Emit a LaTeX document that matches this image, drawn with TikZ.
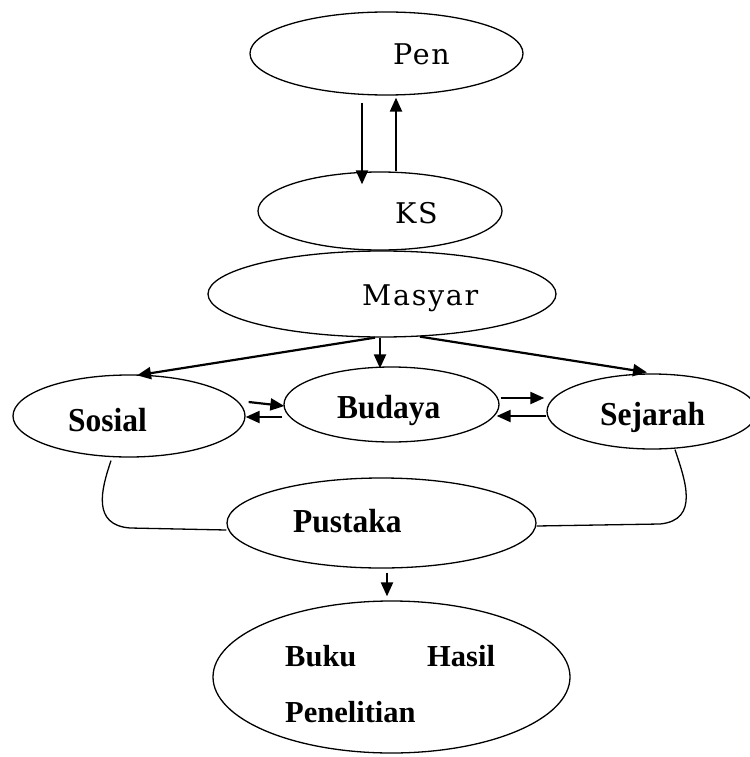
\documentclass[tikz,border=0pt]{standalone}
\usepackage{fontspec}
\setmainfont{Liberation Serif}
\newfontfamily\wideserif[LetterSpace=6]{DejaVu Serif}
\newfontfamily\narrowserif[FakeStretch=0.94]{Liberation Serif}
\usetikzlibrary{shapes.geometric,arrows.meta}
\begin{document}
\begin{tikzpicture}[x=1pt,y=-1pt,
  oval/.style={ellipse, draw, line width=1.3pt, inner sep=0pt},
  toptxt/.style={anchor=base west, inner sep=0pt, font=\wideserif\fontsize{28.5}{34}\selectfont},
  boldtxt/.style={anchor=base west, inner sep=0pt, font=\narrowserif\fontsize{33.5}{40}\selectfont\bfseries},
  booktxt/.style={anchor=base west, inner sep=0pt, font=\fontsize{30.5}{36}\selectfont\bfseries},
  arr/.style={line width=2.2pt, -{Triangle[length=14pt,width=12pt]}},
  link/.style={line width=1.3pt}]
\useasboundingbox (0,0) rectangle (749,757);
\node[oval, minimum width=273pt, minimum height=83pt] (pen) at (386.5,53.5){};
\node[toptxt] (pentxt) at (393,65){Pen};
\node[oval, minimum width=244pt, minimum height=78pt] (ks) at (380,211){};
\node[toptxt] (kstxt) at (395,223){KS};
\node[oval, minimum width=348pt, minimum height=86pt] (masyar) at (382,294){};
\node[toptxt] (masyartxt) at (362,305){Masyar};
\node[oval, minimum width=232pt, minimum height=82pt] (sosial) at (129,416){};
\node[boldtxt] (sosialtxt) at (68,431){Sosial};
\node[oval, minimum width=215pt, minimum height=75pt] (budaya) at (391.5,404.5){};
\node[boldtxt] (budayatxt) at (337,418){Budaya};
\node[oval, minimum width=210pt, minimum height=75pt] (sejarah) at (652,411.5){};
\node[boldtxt] (sejarahtxt) at (600,425){Sejarah};
\node[oval, minimum width=309pt, minimum height=90pt] (pustaka) at (381.5,523){};
\node[boldtxt] (pustakatxt) at (293,532){Pustaka};
\node[oval, minimum width=357pt, minimum height=152pt] (buku) at (391.5,677){};
\node[booktxt] (bukutxt) at (285,666){Buku};
\node[booktxt] (hasiltxt) at (427,666){Hasil};
\node[booktxt] (penelitiantxt) at (285,722){Penelitian};
\draw[arr]([xshift=-24.5pt,yshift=-7pt]pen.south) -- ([xshift=-18pt,yshift=-13pt]ks.north);
\draw[arr]([xshift=16pt]ks.north) -- ([xshift=9.5pt,yshift=-2pt]pen.south);
\draw[arr]([xshift=-2pt]masyar.south) -- ([xshift=-11.5pt,yshift=-2pt]budaya.north);
\draw[arr]([xshift=-7pt]masyar.south) -- ([xshift=8pt,yshift=-1pt]sosial.north);
\draw[arr]([xshift=38pt,yshift=1pt]masyar.south) -- ([xshift=-5pt,yshift=1pt]sejarah.north);
\draw[arr]([xshift=3pt,yshift=14pt]sosial.east) -- ([xshift=1pt,yshift=-1.5pt]budaya.west);
\draw[arr]([xshift=-1pt,yshift=-12.5pt]budaya.west) -- ([yshift=-1pt]sosial.east);
\draw[arr]([xshift=1pt,yshift=6.5pt]budaya.east) -- ([xshift=-2pt,yshift=13.5pt]sejarah.west);
\draw[arr]([yshift=-4.5pt]sejarah.west) -- ([xshift=-3pt,yshift=-11.5pt]budaya.east);
\draw[arr]([xshift=5.5pt,yshift=-4pt]pustaka.south) -- ([xshift=-4.5pt,yshift=4pt]buku.north);
\draw[link]([xshift=-18pt,yshift=-3pt]sosial.south) .. controls (101,490) and (92,525) .. (130,528) -- ([yshift=-7pt]pustaka.west);
\draw[link]([xshift=23pt]sejarah.south) .. controls (685,480) and (700,520) .. (660,524) -- ([yshift=-3pt]pustaka.east);
\end{tikzpicture}
\end{document}
